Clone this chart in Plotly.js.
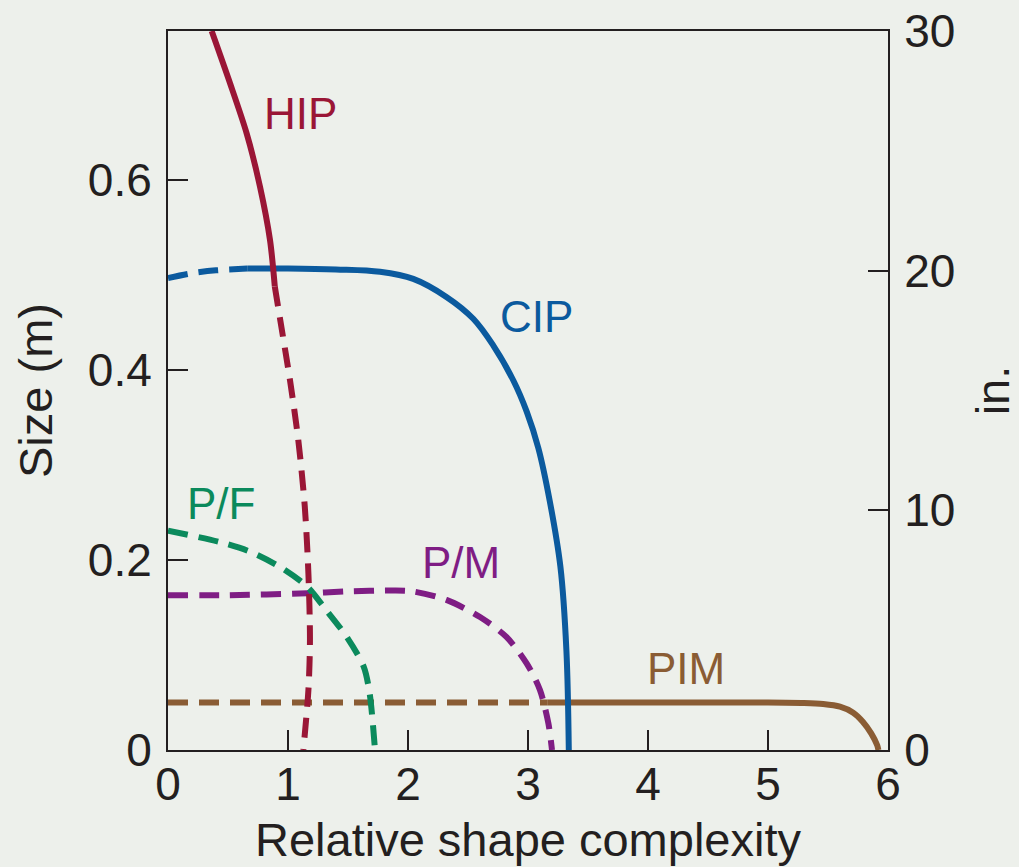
<!DOCTYPE html>
<html>
<head>
<meta charset="utf-8">
<script src="https://cdn.plot.ly/plotly-3.0.1.min.js"></script>
<style>
html,body{margin:0;padding:0;background:#edf0eb;}
#chart{width:1019px;height:867px;}
</style>
</head>
<body>
<div id="chart"></div>
<script>
// HIP
const hipSolidX = [0.364, 0.517, 0.656, 0.767, 0.85, 0.89];
const hipSolidY = [0.757, 0.702, 0.649, 0.593, 0.537, 0.488];
const hipDashX = [0.89, 0.935, 1.017, 1.086, 1.14, 1.17, 1.183, 1.17, 1.128];
const hipDashY = [0.488, 0.453, 0.389, 0.326, 0.256, 0.186, 0.116, 0.063, 0.0];
// CIP
const cipDashX = [0, 0.2, 0.4, 0.66];
const cipDashY = [0.497, 0.502, 0.505, 0.507];
const cipSolidX = [0.66, 1.0, 1.4, 1.767, 2.044, 2.32, 2.544, 2.71, 2.878, 2.99, 3.086, 3.18, 3.27, 3.32, 3.34];
const cipSolidY = [0.507, 0.507, 0.506, 0.5035, 0.496, 0.477, 0.454, 0.426, 0.389, 0.356, 0.318, 0.263, 0.193, 0.105, 0.0];
// P/F
const pfX = [0, 0.43, 0.68, 0.93, 1.16, 1.32, 1.49, 1.63, 1.68, 1.725];
const pfY = [0.231, 0.219, 0.209, 0.193, 0.172, 0.147, 0.119, 0.088, 0.06, 0.0];
// P/M
const pmX = [0, 0.5, 1.16, 1.5, 1.88, 2.04, 2.32, 2.6, 2.82, 2.99, 3.1, 3.17, 3.2];
const pmY = [0.163, 0.163, 0.165, 0.167, 0.168, 0.167, 0.158, 0.14, 0.119, 0.091, 0.063, 0.028, 0.0];
// PIM
const pimDashX = [0, 3.16];
const pimDashY = [0.05, 0.05];
const pimSolidX = [3.16, 4.0, 5.0, 5.3, 5.46, 5.6, 5.71, 5.79, 5.86, 5.91, 5.92];
const pimSolidY = [0.05, 0.05, 0.05, 0.0495, 0.0484, 0.0456, 0.0393, 0.0298, 0.0175, 0.005, 0.0];

// labels
const labelText = ["HIP", "CIP", "P/F", "P/M", "PIM"];
const labelX = [1.1, 3.067, 0.44, 2.44, 4.32];
const labelY = [0.6705, 0.456, 0.26, 0.197, 0.0863];

const xTicks = [0, 1, 2, 3, 4, 5, 6];
const yTicks = [0, 0.2, 0.4, 0.6];
const yTickText = ["0", "0.2", "0.4", "0.6"];
const inTicks = [0, 10, 20, 30];

const C = {
  HIP: "#9a1636",
  CIP: "#0b5a9e",
  PF: "#0b8a5c",
  PM: "#7f1d84",
  PIM: "#8a5c34"
};
const labelColors = [C.HIP, C.CIP, C.PF, C.PM, C.PIM];

const W = 6;
const DASH = "20px,11px";
function tr(x, y, color, dash, sm) {
  return {x: x, y: y, type: "scatter", mode: "lines", hoverinfo: "skip",
    line: {color: color, width: W, dash: dash, shape: "spline", smoothing: sm},
    showlegend: false, cliponaxis: true};
}

const data = [
  tr(pimDashX, pimDashY, C.PIM, DASH, 0.6),
  tr(pimSolidX, pimSolidY, C.PIM, "solid", 0.8),
  tr(pmX, pmY, C.PM, DASH, 0.8),
  tr(pfX, pfY, C.PF, DASH, 0.8),
  tr(cipDashX, cipDashY, C.CIP, DASH, 0.8),
  tr(cipSolidX, cipSolidY, C.CIP, "solid", 1.0),
  tr(hipDashX, hipDashY, C.HIP, DASH, 0.8),
  tr(hipSolidX, hipSolidY, C.HIP, "solid", 0.8),
  {x: [0, 6], y: [0, 0], yaxis: "y2", type: "scatter", mode: "lines",
   line: {width: 0}, opacity: 0, hoverinfo: "skip", showlegend: false}
];

const FONT = "Liberation Sans, Arial, Helvetica, sans-serif";
const INK = "#231f20";
const TICKSZ = 46, TITLESZ = 47;

const layout = {
  width: 1019, height: 867,
  margin: {l: 168, r: 131, t: 31, b: 117},
  paper_bgcolor: "#edf0eb",
  plot_bgcolor: "rgba(0,0,0,0)",
  font: {family: FONT, size: TICKSZ, color: INK},
  xaxis: {
    range: [0, 6], tickvals: xTicks, ticktext: xTicks.map(String),
    ticks: "inside", ticklen: 20, tickwidth: 2, tickcolor: INK,
    showline: true, linewidth: 2, linecolor: INK, mirror: true,
    showgrid: false, zeroline: false, automargin: false,
    ticklabelstandoff: -7,
    tickfont: {size: TICKSZ, family: FONT, color: INK},
    title: {text: "Relative shape complexity", font: {size: TITLESZ, family: FONT, color: INK}, standoff: 14}
  },
  yaxis: {
    range: [0, 0.757], tickvals: yTicks, ticktext: yTickText,
    ticks: "inside", ticklen: 20, tickwidth: 2, tickcolor: INK,
    showline: true, linewidth: 2, linecolor: INK,
    showgrid: false, zeroline: false, automargin: false,
    ticklabelstandoff: 5,
    tickfont: {size: TICKSZ, family: FONT, color: INK},
    title: {text: "Size (m)", font: {size: TITLESZ, family: FONT, color: INK}, standoff: 20}
  },
  yaxis2: {
    overlaying: "y", side: "right", range: [0, 30], tickvals: inTicks,
    ticktext: inTicks.map(String),
    ticks: "inside", ticklen: 20, tickwidth: 2, tickcolor: INK,
    showline: true, linewidth: 2, linecolor: INK,
    showgrid: false, zeroline: false, automargin: false,
    ticklabelstandoff: 5,
    tickfont: {size: TICKSZ, family: FONT, color: INK},
    title: {text: "in.", font: {size: TITLESZ, family: FONT, color: INK}, standoff: 30}
  },
  annotations: labelText.map((t, i) => ({
    x: labelX[i], y: labelY[i], xref: "x", yref: "y", text: t,
    showarrow: false, xanchor: "center", yanchor: "middle",
    font: {size: 44, family: FONT, color: labelColors[i]}
  }))
};

Plotly.newPlot("chart", data, layout, {staticPlot: true, displayModeBar: false});
</script>
</body>
</html>
